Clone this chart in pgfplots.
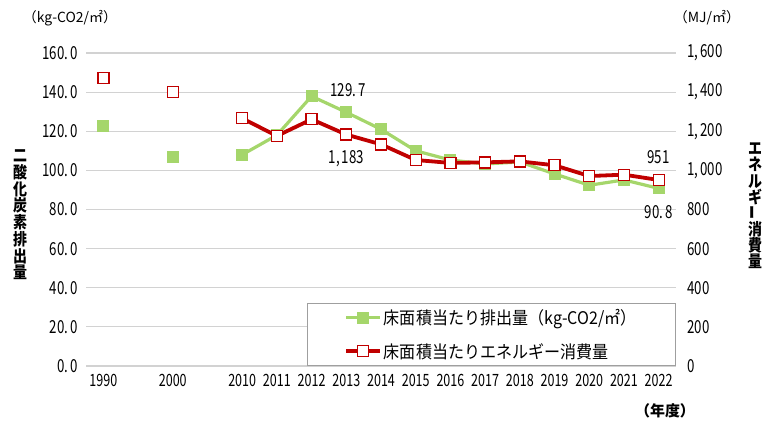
\documentclass[border=0pt]{standalone}
\usepackage{pgfplots}
\pgfplotsset{compat=1.18}
\usepackage{fontspec}
\setmainfont{Noto Sans CJK JP}
\newfontfamily\numfont[FakeStretch=0.74]{Noto Sans CJK JP}
\newfontfamily\titfont[FakeStretch=0.85]{Noto Sans CJK JP}
\newfontfamily\legfont[FakeStretch=0.92]{Noto Sans CJK JP}
\definecolor{cgreen}{RGB}{165,214,107}
\definecolor{cred}{RGB}{192,0,0}
\begin{document}
\begin{tikzpicture}
\path[use as bounding box] (0,0) rectangle (764bp,425bp);
\begin{axis}[
  at={(86bp,59bp)}, anchor=south west, scale only axis,
  width=590bp, height=313bp,
  xmin=-0.5, xmax=16.5, ymin=0, ymax=160,
  axis line style={draw=none}, major tick length=0pt,
  ymajorgrids, grid style={draw=gray!35, line width=1.2bp},
  xtick={0,2,4,5,6,7,8,9,10,11,12,13,14,15,16},
  xticklabels={1990,2000,2010,2011,2012,2013,2014,2015,2016,2017,2018,2019,2020,2021,2022},
  ytick={0,20,40,60,80,100,120,140,160},
  yticklabels={0.\kern2bp0,20.\kern2bp0,40.\kern2bp0,60.\kern2bp0,80.\kern2bp0,100.\kern2bp0,120.\kern2bp0,140.\kern2bp0,160.\kern2bp0},
  xticklabel style={font=\numfont\fontsize{17}{17}\selectfont, yshift=-5bp},
  yticklabel style={font=\numfont\fontsize{18}{18}\selectfont, xshift=-5bp},
  unbounded coords=jump,
]
\addplot[cgreen, line width=3.2bp, mark=square*, mark size=5.5bp, mark options={fill=cgreen, draw=cgreen, line width=0pt}]
 coordinates {(0,122.7) (1,nan) (2,107.0) (3,nan) (4,108.0) (5,118.0) (6,137.9) (7,129.7) (8,121.0) (9,110.0) (10,105.3) (11,103.3) (12,104.3) (13,98.2) (14,92.4) (15,95.1) (16,90.8)};
\node[font=\numfont\fontsize{18}{18}\selectfont] at (axis cs:7.05,129.7) [yshift=22bp] {129.\kern2bp7};
\node[font=\numfont\fontsize{18}{18}\selectfont] at (axis cs:16,90.8) [yshift=-24bp] {90.\kern2bp8};
\end{axis}
\begin{axis}[
  at={(86bp,59bp)}, anchor=south west, scale only axis,
  width=590bp, height=313bp,
  xmin=-0.5, xmax=16.5, ymin=0, ymax=1600,
  axis line style={draw=none}, major tick length=0pt,
  xtick=\empty, yticklabel pos=right,
  ytick={0,200,400,600,800,1000,1200,1400,1600},
  yticklabels={0,200,400,600,800,{1,\kern2bp000},{1,\kern2bp200},{1,\kern2bp400},{1,\kern2bp600}},
  yticklabel style={font=\numfont\fontsize{18}{18}\selectfont, xshift=8bp},
  unbounded coords=jump,
  legend style={at={(1,0)}, anchor=south east, draw=gray!75, line width=1bp, fill=white,
    font=\legfont\fontsize{17.5}{17.5}\selectfont, inner xsep=37bp, inner ysep=4bp, row sep=13bp},
  legend cell align=left,
  legend image code/.code={\draw[mark repeat=2,mark phase=2,#1] plot coordinates {(0bp,0bp) (17bp,0bp) (34bp,0bp)};},
]
\addlegendimage{cgreen, line width=3.2bp, mark=square*, mark size=5.5bp, mark options={fill=cgreen, draw=cgreen, line width=0pt}}
\addlegendentry{床面積当たり排出量（kg-CO2/㎡）}
\addplot[cred, line width=3.8bp, mark=square*, mark size=5.5bp, mark options={fill=white, draw=cred, line width=1.3bp}]
 coordinates {(0,1472) (1,nan) (2,1402) (3,nan) (4,1266) (5,1176) (6,1261) (7,1183) (8,1133) (9,1053) (10,1038) (11,1041) (12,1046) (13,1026) (14,971) (15,978) (16,951)};
\addlegendentry{床面積当たりエネルギー消費量}
\node[font=\numfont\fontsize{18}{18}\selectfont] at (axis cs:7,1183) [yshift=-24bp] {1,\kern2bp183};
\node[font=\numfont\fontsize{18}{18}\selectfont] at (axis cs:16,951) [yshift=23bp] {951};
\end{axis}
\node[font=\fontsize{14}{14}\selectfont] at (70bp,407bp) {（kg-CO2/㎡）};
\node[font=\fontsize{14}{14}\selectfont] at (707bp,407bp) {（MJ/㎡）};
\node[font=\bfseries\fontsize{15}{15}\selectfont] at (665bp,14bp) {（年度）};
\node[font=\titfont\bfseries\fontsize{16.5}{16.8}\selectfont, align=center, inner sep=0pt] at (20bp,210bp)
  {二\\酸\\化\\炭\\素\\排\\出\\量};
\node[font=\titfont\bfseries\fontsize{16.5}{16.2}\selectfont, align=center, inner sep=0pt] at (755bp,219bp)
  {エ\\ネ\\ル\\ギ\\\rotatebox{90}{ー}\\消\\費\\量};
\end{tikzpicture}
\end{document}
